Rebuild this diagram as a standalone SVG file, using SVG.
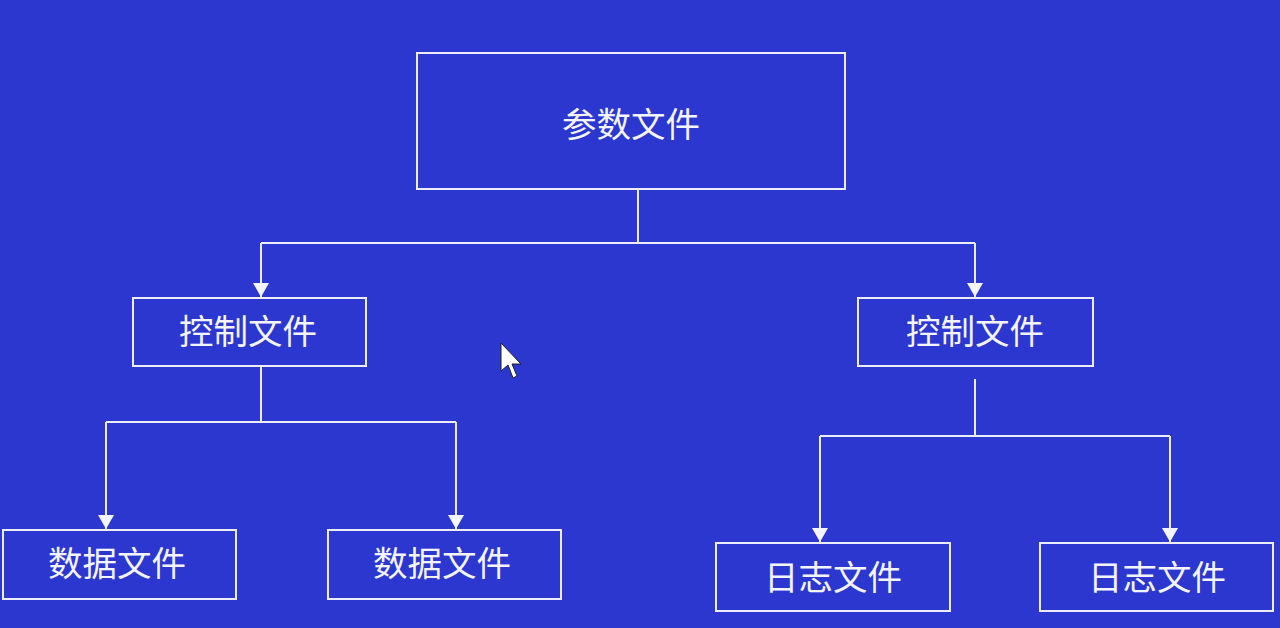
<svg xmlns="http://www.w3.org/2000/svg" width="1280" height="628" viewBox="0 0 1280 628">
<defs>
<marker id="arr" viewBox="0 0 14 16" refX="14" refY="8" markerWidth="14" markerHeight="16" markerUnits="userSpaceOnUse" orient="auto">
<path d="M0,0 L14,8 L0,16 Z" fill="#f4f4ff"/>
</marker>
</defs>
<style>
.box{fill:none;stroke:#ececf8;stroke-width:2}
.lbl{font-family:"Noto Sans CJK SC","Noto Sans",sans-serif;font-size:34.5px;fill:#f4f4ff;text-anchor:middle;dominant-baseline:central}
.ln{fill:none;stroke:#ececf8;stroke-width:2}
</style>
<rect width="1280" height="628" fill="#2c37cf"/>
<g id="connectors">
<path class="ln" d="M638,189 V243"/>
<path class="ln" d="M261,243 H975"/>
<path class="ln" d="M261,243 V297" marker-end="url(#arr)"/>
<path class="ln" d="M975,243 V297" marker-end="url(#arr)"/>
<path class="ln" d="M261,366 V422"/>
<path class="ln" d="M106,422 H456"/>
<path class="ln" d="M106,422 V529" marker-end="url(#arr)"/>
<path class="ln" d="M456,422 V529" marker-end="url(#arr)"/>
<path class="ln" d="M975,379 V436"/>
<path class="ln" d="M820,436 H1170"/>
<path class="ln" d="M820,436 V542" marker-end="url(#arr)"/>
<path class="ln" d="M1170,436 V542" marker-end="url(#arr)"/>
</g>
<g id="n_param"><rect class="box" x="417" y="53" width="428" height="136"/><text class="lbl" x="631" y="122">参数文件</text></g>
<g id="n_ctrl1"><rect class="box" x="133" y="298" width="233" height="68"/><text class="lbl" x="248" y="329">控制文件</text></g>
<g id="n_ctrl2"><rect class="box" x="858" y="298" width="235" height="68"/><text class="lbl" x="975" y="329">控制文件</text></g>
<g id="n_data1"><rect class="box" x="3" y="530" width="233" height="69"/><text class="lbl" x="117" y="561">数据文件</text></g>
<g id="n_data2"><rect class="box" x="328" y="530" width="233" height="69"/><text class="lbl" x="442" y="561">数据文件</text></g>
<g id="n_log1"><rect class="box" x="716" y="543" width="234" height="68"/><text class="lbl" x="833" y="575">日志文件</text></g>
<g id="n_log2"><rect class="box" x="1040" y="543" width="233" height="68"/><text class="lbl" x="1157" y="575">日志文件</text></g>
<path d="M501,343 L501,371 L508,365 L513,378 L517,376 L512,364 L521,364 Z" fill="#ffffff" stroke="#202020" stroke-width="1"/>
</svg>
